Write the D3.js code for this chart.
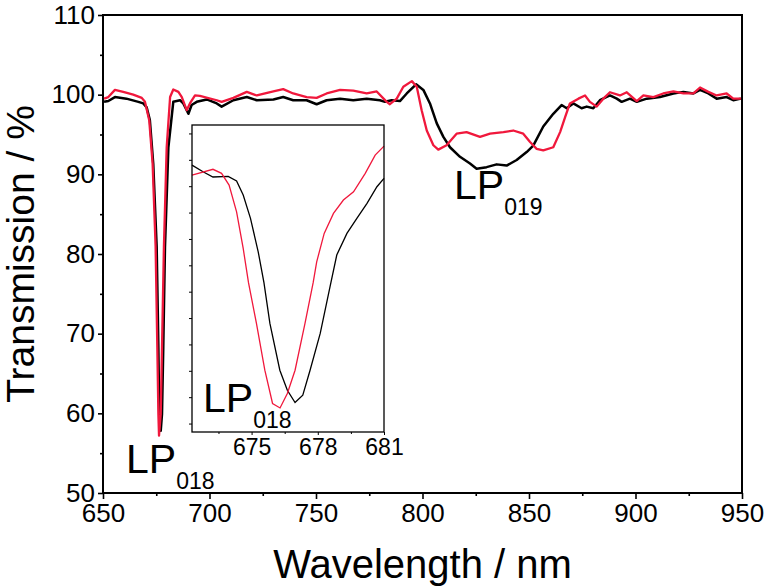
<!DOCTYPE html>
<html>
<head>
<meta charset="utf-8">
<script src="https://cdn.jsdelivr.net/npm/d3@7"></script>
<style>
  body { margin: 0; background: #fff; }
  svg text { font-family: "Liberation Sans", Arial, sans-serif; fill: #000; }
</style>
</head>
<body>
<div id="chart"></div>
<script>
// --- data (wavelength nm, transmission %) ---
const blackMain = [
  [650.5, 99.1], [652.5, 99.2], [655.6, 99.7], [661, 99.5], [666.6, 99.1], [668.9, 98.9],
  [670.5, 98.4], [672, 96.8], [673.6, 91.3], [675.2, 80.9], [676, 68.3], [676.4, 59.9],
  [677.1, 57.8], [677.7, 59.9], [678.3, 68.3], [679.1, 80.9], [680.7, 93.4], [683, 99.1],
  [686.2, 99.3], [687.7, 98.9], [690.1, 97.6], [691.6, 98.7], [694, 99.1], [698.7, 99.4],
  [703.4, 98.9], [705.7, 98.5], [711.2, 99.3], [717.5, 99.7], [722.2, 99.3], [730, 99.4],
  [734.6, 99.7], [739.3, 99.3], [745.6, 99.3], [750.3, 98.8], [755, 99.3], [761.3, 99.5],
  [767.5, 99.3], [773.8, 99.5], [780, 99.3], [782.4, 99.1], [785.5, 99.3], [789.4, 99.2],
  [792.6, 100.15], [797, 101.3], [800.4, 100.6], [803.5, 98.9], [806.7, 96.4], [809.8, 94.7],
  [812.9, 93.4], [817.6, 92.2], [822.3, 91.35], [825.4, 90.7], [830.1, 90.9], [834.8, 91.25],
  [839.5, 91.1], [844.2, 91.8], [848.9, 92.8], [852, 93.6], [856.7, 96.0], [861.4, 97.6],
  [865.3, 98.7], [867.7, 98.3], [870.8, 98.9], [874.7, 98.3], [877.1, 98.5], [880.2, 98.3],
  [883.3, 99.3], [888, 99.9], [891.2, 99.5], [893.5, 99.1], [897.4, 99.5], [900.6, 99.1],
  [905.3, 99.5], [911.5, 99.7], [917.8, 100.15], [922.5, 100.35], [927.2, 100.15],
  [930.3, 100.6], [934.2, 100.15], [938.1, 99.5], [942.8, 99.7], [945.9, 99.3], [949.5, 99.5]
];

const redMain = [
  [650.5, 99.5], [652.5, 99.7], [655.6, 100.6], [659.5, 100.35], [664.2, 100.0], [668.2, 99.6],
  [669.7, 99.1], [671.7, 96.8], [673.3, 91.3], [674.7, 80.9], [675.5, 68.3], [676, 59.9],
  [676.3, 57.2], [677.1, 59.9], [677.7, 68.3], [678.6, 80.9], [679.9, 93.4], [681.5, 99.7],
  [683, 100.65], [685.4, 100.35], [687, 99.7], [689.3, 98.05], [690.8, 98.9], [693.2, 99.9],
  [695.5, 99.85], [703.4, 99.3], [705.7, 99.1], [711.2, 99.6], [717.5, 100.35], [722.2, 99.9],
  [730, 100.4], [734.6, 100.7], [739.3, 100.15], [745.6, 99.7], [750.3, 99.6], [755, 100.15],
  [761.3, 100.6], [767.5, 100.5], [773.8, 100.15], [778.5, 100.4], [783.2, 99.1], [784.7, 98.8],
  [787.9, 99.5], [791, 101], [795, 101.7], [797.3, 101], [799.6, 98.05], [802, 95.5],
  [805.1, 93.65], [807.4, 93.1], [811.3, 93.65], [816, 95.1], [820.7, 95.3], [827, 94.7],
  [831.7, 95.1], [838, 95.3], [842.6, 95.5], [847.3, 95.1], [850.5, 94.05], [853.6, 93.2],
  [856.7, 93.0], [861.4, 93.4], [864.6, 95.3], [867, 97.2], [869.2, 98.9], [873.2, 99.5],
  [876.3, 99.9], [878.6, 99.1], [881.8, 98.5], [884.9, 99.5], [888, 100.3], [892.7, 99.9],
  [895.9, 100.3], [900.6, 99.2], [903.7, 99.9], [908.4, 99.7], [913, 100.15], [917.8, 100.4],
  [922.5, 100.15], [927.2, 100.15], [930.3, 100.9], [934.2, 100.35], [938.1, 99.9],
  [942.8, 100.15], [945.9, 99.5], [949.5, 99.5]
];

// inset: zoom on the LP018 dip
const blackInset = [
  [672.3, 99.0], [672.8, 97.74], [673.25, 96.74], [673.94, 96.87], [674.32, 95.98],
  [674.62, 93.32], [674.95, 88.9], [675.3, 82.56], [675.56, 76.7], [675.83, 68.98],
  [676.28, 60.11], [676.62, 56.32], [676.97, 53.98], [677.32, 55.37], [677.65, 60.11],
  [678.11, 67.08], [678.56, 76.05], [678.86, 81.94], [679.32, 86.05], [679.77, 88.9],
  [680.23, 91.75], [680.68, 94.9], [681.0, 96.49]
];

const redInset = [
  [672.3, 97.12], [673.25, 98.2], [673.64, 97.44], [673.98, 95.22], [674.32, 90.15],
  [674.62, 83.2], [674.86, 76.7], [675.22, 68.98], [675.6, 60.11], [675.95, 53.8],
  [676.29, 52.96], [676.62, 55.69], [676.97, 60.11], [677.42, 68.98], [677.79, 76.7],
  [677.95, 80.66], [678.29, 86.05], [678.71, 89.85], [679.16, 92.37], [679.62, 93.95],
  [680.15, 97.44], [680.6, 100.9], [681.0, 102.6]
];

const xTicks = [650, 700, 750, 800, 850, 900, 950];
const xMinor = [675, 725, 775, 825, 875, 925];
const yTicks = [50, 60, 70, 80, 90, 100, 110];
const yMinor = [55, 65, 75, 85, 95, 105];
const insetXTicks = [675, 678, 681];
const insetXMinor = [673.5, 676.5, 679.5];
const insetYTicks = d3.range(50, 106, 5);

const RED = "#f0183c";
const FONT = "'Liberation Sans', Arial, sans-serif";

const W = 768, H = 588;
const m = { left: 103, top: 15, right: 742, bottom: 493 };

const svg = d3.select("#chart").append("svg")
  .attr("width", W).attr("height", H);

const x = d3.scaleLinear().domain([650, 950]).range([m.left, m.right]);
const y = d3.scaleLinear().domain([50, 110]).range([m.bottom, m.top]);

// --- axes ---
const gx = svg.append("g").attr("transform", `translate(0,${m.bottom})`);
gx.call(d3.axisBottom(x).tickValues(xTicks).tickSize(6).tickSizeOuter(0).tickPadding(3));
gx.append("g").call(d3.axisBottom(x).tickValues(xMinor).tickSize(3).tickSizeOuter(0).tickFormat(""));

const gy = svg.append("g").attr("transform", `translate(${m.left},0)`);
gy.call(d3.axisLeft(y).tickValues(yTicks).tickSize(5).tickSizeOuter(0).tickPadding(3));
gy.append("g").call(d3.axisLeft(y).tickValues(yMinor).tickSize(3).tickSizeOuter(0).tickFormat(""));

svg.selectAll(".domain").remove();
svg.selectAll(".tick line").attr("stroke", "#000").attr("stroke-width", 1.6);
gx.selectAll(".tick text").attr("font-size", 26).attr("dy", "0.76em").style("font-family", FONT);
gy.selectAll(".tick text").attr("font-size", 26).style("font-family", FONT);

// frame
svg.append("rect")
  .attr("x", m.left).attr("y", m.top)
  .attr("width", m.right - m.left).attr("height", m.bottom - m.top)
  .attr("fill", "none").attr("stroke", "#000").attr("stroke-width", 2);

// axis titles
svg.append("text")
  .attr("x", (m.left + m.right) / 2).attr("y", 578)
  .attr("text-anchor", "middle").attr("font-size", 40)
  .text("Wavelength / nm");

svg.append("text")
  .attr("transform", `translate(34,${(m.top + m.bottom) / 2}) rotate(-90)`)
  .attr("text-anchor", "middle").attr("font-size", 39)
  .text("Transmission / %");

// --- main curves ---
const line = d3.line().x(d => x(d[0])).y(d => y(d[1]));

svg.append("path").datum(blackMain)
  .attr("d", line).attr("fill", "none")
  .attr("stroke", "#000").attr("stroke-width", 2.5).attr("stroke-linejoin", "round");
svg.append("path").datum(redMain)
  .attr("d", line).attr("fill", "none")
  .attr("stroke", RED).attr("stroke-width", 2.3).attr("stroke-linejoin", "round");

// mode labels
function modeLabel(g, px, py, sub) {
  const t = g.append("text").attr("x", px).attr("y", py).attr("font-size", 41);
  t.append("tspan").text("LP");
  t.append("tspan").attr("font-size", 23).attr("dy", 16).text(sub);
}
modeLabel(svg, 126, 473, "018");
modeLabel(svg, 454, 199, "019");

// --- inset ---
const inset = { left: 192, top: 125, right: 384, bottom: 432 };
const xi = d3.scaleLinear().domain([672.3, 681]).range([inset.left, inset.right]);
const yi = d3.scaleLinear().domain([48.4, 106.6]).range([inset.bottom, inset.top]);

const gi = svg.append("g");
gi.append("rect")
  .attr("x", inset.left).attr("y", inset.top)
  .attr("width", inset.right - inset.left).attr("height", inset.bottom - inset.top)
  .attr("fill", "#fff");

const gix = gi.append("g").attr("transform", `translate(0,${inset.bottom})`);
gix.call(d3.axisBottom(xi).tickValues(insetXTicks).tickSize(3).tickSizeOuter(0).tickPadding(3));
gix.append("g").call(d3.axisBottom(xi).tickValues(insetXMinor).tickSize(2).tickSizeOuter(0).tickFormat(""));
const giy = gi.append("g").attr("transform", `translate(${inset.left},0)`);
giy.call(d3.axisLeft(yi).tickValues(insetYTicks).tickSize(3).tickSizeOuter(0).tickFormat(""));

gi.selectAll(".domain").remove();
gi.selectAll(".tick line").attr("stroke", "#000").attr("stroke-width", 1);
gix.selectAll(".tick text").attr("font-size", 23).attr("dy", "0.76em").style("font-family", FONT);

const lineI = d3.line().x(d => xi(d[0])).y(d => yi(d[1]));
gi.append("path").datum(blackInset)
  .attr("d", lineI).attr("fill", "none").attr("stroke", "#000").attr("stroke-width", 1.3);
gi.append("path").datum(redInset)
  .attr("d", lineI).attr("fill", "none").attr("stroke", RED).attr("stroke-width", 1.3);

gi.append("rect")
  .attr("x", inset.left).attr("y", inset.top)
  .attr("width", inset.right - inset.left).attr("height", inset.bottom - inset.top)
  .attr("fill", "none").attr("stroke", "#000").attr("stroke-width", 1.3);

modeLabel(gi, 203, 412, "018");
</script>
</body>
</html>
